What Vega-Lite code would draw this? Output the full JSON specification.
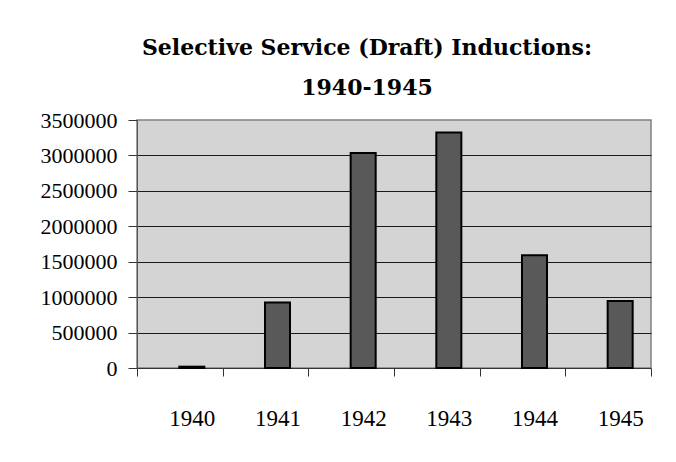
{
  "$schema": "https://vega.github.io/schema/vega-lite/v6.json",
  "autosize": {"type": "none"},
  "width": 514,
  "height": 248,
  "padding": {"left": 137, "top": 120, "right": 25, "bottom": 94},
  "background": "white",
  "title": {
    "text": ["Selective Service (Draft) Inductions:", "1940-1945"],
    "font": "DejaVu Serif",
    "fontSize": 22,
    "fontWeight": "bold",
    "color": "black",
    "lineHeight": 40,
    "anchor": "middle",
    "dx": -27,
    "offset": 9
  },
  "data": {
    "values": [
      {"year": "1940", "inductions": 18633},
      {"year": "1941", "inductions": 923842},
      {"year": "1942", "inductions": 3033361},
      {"year": "1943", "inductions": 3323970},
      {"year": "1944", "inductions": 1591942},
      {"year": "1945", "inductions": 945862}
    ]
  },
  "mark": {
    "type": "bar",
    "width": {"band": 0.292},
    "xOffset": 12,
    "fill": "#595959",
    "stroke": "black",
    "strokeWidth": 2
  },
  "encoding": {
    "x": {
      "field": "year",
      "type": "nominal",
      "sort": null,
      "scale": {"paddingInner": 0, "paddingOuter": 0},
      "axis": {
        "title": null,
        "labelAngle": 0,
        "tickBand": "extent",
        "tickSize": 8,
        "tickColor": "#333333",
        "domainColor": "#333333",
        "labelFont": "Liberation Serif",
        "labelFontSize": 23,
        "labelColor": "black",
        "labelPadding": 31,
        "labelOffset": 12
      }
    },
    "y": {
      "field": "inductions",
      "type": "quantitative",
      "scale": {"domain": [0, 3500000], "nice": false},
      "axis": {
        "title": null,
        "values": [0, 500000, 1000000, 1500000, 2000000, 2500000, 3000000, 3500000],
        "format": "d",
        "tickSize": 9,
        "tickColor": "#333333",
        "domainColor": "#555555",
        "labelFont": "Liberation Serif",
        "labelFontSize": 22,
        "labelColor": "black",
        "labelPadding": 11,
        "grid": true,
        "gridColor": {"condition": {"test": "datum.value == 0 || datum.value == 3500000", "value": "transparent"}, "value": "#1a1a1a"},
        "gridWidth": 1
      }
    }
  },
  "config": {
    "view": {"fill": "#d4d4d4", "stroke": "#808080", "strokeWidth": 1.5}
  }
}
